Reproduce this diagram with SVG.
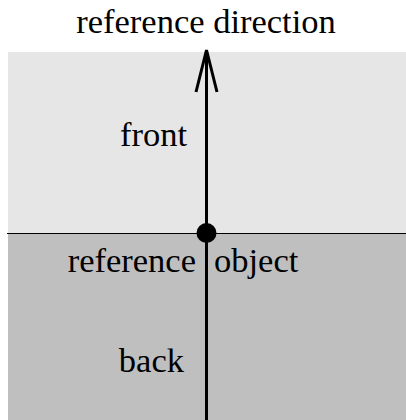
<svg xmlns="http://www.w3.org/2000/svg" width="406" height="420" viewBox="0 0 406 420">
<style>
text{font-family:"Liberation Serif","Times New Roman",serif;font-size:34.5px;fill:#000}
.ln{stroke:#000;stroke-width:3;fill:none}
</style>
<g id="regions">
<rect id="front-region" x="8" y="52" width="398" height="181" fill="#e6e6e6"/>
<rect id="back-region" x="8" y="233" width="398" height="187" fill="#bfbfbf"/>
<line x1="7" y1="233.5" x2="406" y2="233.5" stroke="#000" stroke-width="1.2"/>
</g>
<g id="connectors">
<line class="ln" x1="206.5" y1="420" x2="206.5" y2="50"/>
<polyline class="ln" points="196,92 206.5,50 217,92"/>
</g>
<g id="reference-object">
<circle cx="206.5" cy="233" r="10" fill="#000"/>
<text x="196" y="272" text-anchor="end">reference</text>
<text x="214" y="272">object</text>
</g>
<g id="labels">
<text x="206" y="33" text-anchor="middle">reference direction</text>
<text x="187" y="146" text-anchor="end">front</text>
<text x="184" y="372" text-anchor="end">back</text>
</g>
</svg>
